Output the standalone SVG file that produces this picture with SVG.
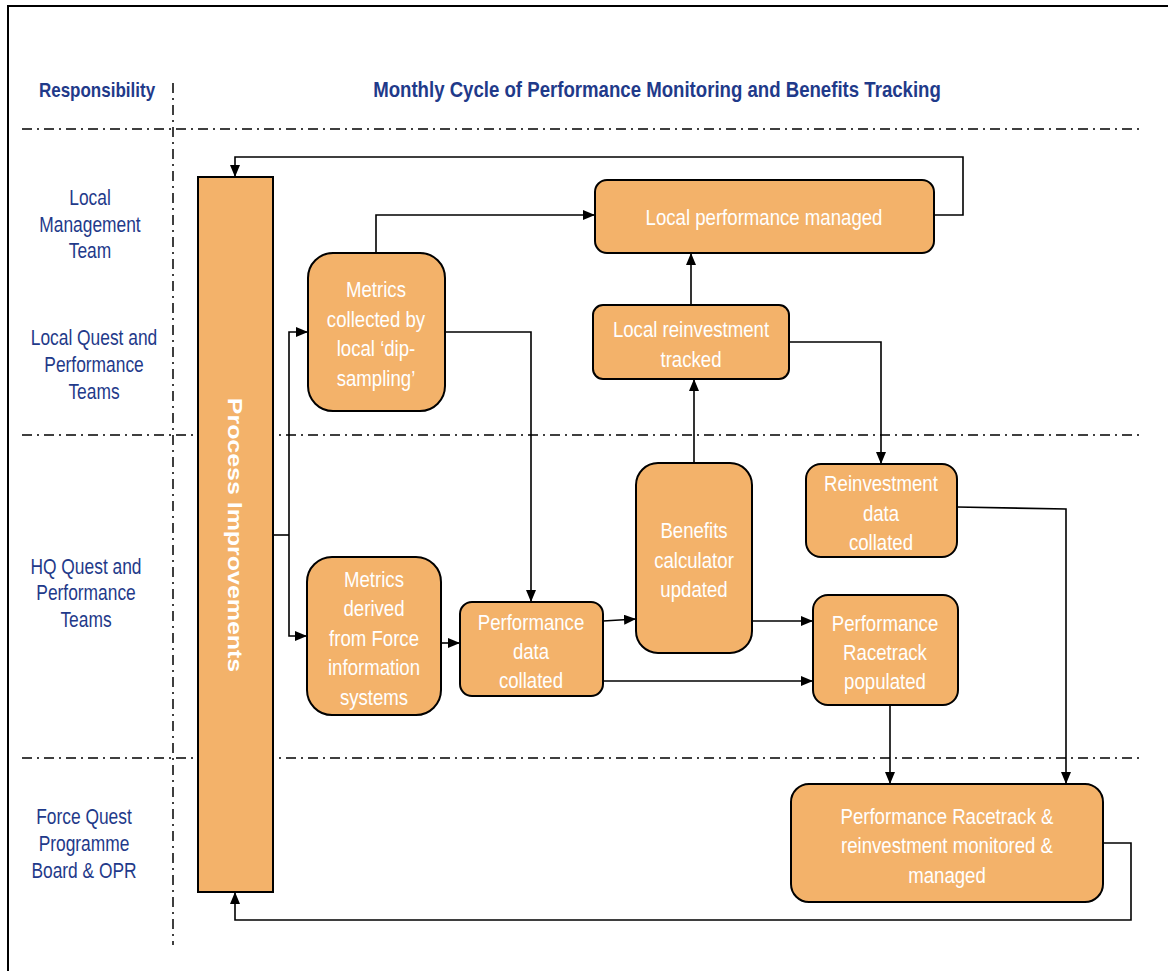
<svg xmlns="http://www.w3.org/2000/svg" width="1168" height="971" viewBox="0 0 1168 971">
<defs>
<marker id="arr" viewBox="0 0 12 10" refX="12" refY="5" markerWidth="12" markerHeight="10" markerUnits="userSpaceOnUse" orient="auto">
<path d="M0,0 L12,5 L0,10 Z" fill="#000"/>
</marker>
<style>
.frame{fill:none;stroke:#000;stroke-width:2}
.lane{fill:none;stroke:#000;stroke-width:1.5;stroke-dasharray:10 5 2 5}
.box{fill:#F3B26A;stroke:#000;stroke-width:2}
text{font-family:"Liberation Sans",Arial,sans-serif;text-anchor:middle}
.lbl{font-size:23px;fill:#fff}
.resp{font-size:22px;fill:#1F3A8A}
.head{font-size:21px;font-weight:bold;fill:#1F3A8A}
.title{font-size:23px;font-weight:bold;fill:#1F3A8A}
.con{fill:none;stroke:#000;stroke-width:1.6;marker-end:url(#arr)}
.line{fill:none;stroke:#000;stroke-width:1.6}
</style>
</defs>
<rect width="1168" height="971" fill="#fff"/>
<!-- outer frame -->
<path class="frame" d="M8,971 V6 H1168"/>
<!-- swimlane separators -->
<g id="lanes">
<path class="lane" d="M22,129 H1142"/>
<path class="lane" d="M22,435 H1142"/>
<path class="lane" d="M22,758 H1142"/>
<path class="lane" d="M173,83 V945"/>
</g>
<!-- headings (narrow type: horizontally condensed) -->
<text class="head" transform="translate(97 97) scale(.81 1)">Responsibility</text>
<text class="title" transform="translate(657 97) scale(.81 1)">Monthly Cycle of Performance Monitoring and Benefits Tracking</text>
<g id="responsibility">
<text class="resp" transform="translate(90 205) scale(.79 1)">Local</text>
<text class="resp" transform="translate(90 232) scale(.79 1)">Management</text>
<text class="resp" transform="translate(90 258) scale(.79 1)">Team</text>
<text class="resp" transform="translate(94 345) scale(.79 1)">Local Quest and</text>
<text class="resp" transform="translate(94 372) scale(.79 1)">Performance</text>
<text class="resp" transform="translate(94 399) scale(.79 1)">Teams</text>
<text class="resp" transform="translate(86 574) scale(.79 1)">HQ Quest and</text>
<text class="resp" transform="translate(86 600) scale(.79 1)">Performance</text>
<text class="resp" transform="translate(86 627) scale(.79 1)">Teams</text>
<text class="resp" transform="translate(84 824) scale(.79 1)">Force Quest</text>
<text class="resp" transform="translate(84 851) scale(.79 1)">Programme</text>
<text class="resp" transform="translate(84 878) scale(.79 1)">Board &amp; OPR</text>
</g>
<!-- connectors -->
<g id="connectors">
<path class="con" d="M934,215 H963 V157 H235 V177"/>
<path class="con" d="M376,253 V215 H595"/>
<path class="con" d="M445,332 H531 V602"/>
<path class="line" d="M273,535 H289"/>
<path class="con" d="M289,535 V332 H308"/>
<path class="con" d="M289,535 V636 H307"/>
<path class="con" d="M441,643 H460"/>
<path class="con" d="M603,621 L636,619"/>
<path class="con" d="M603,681 H813"/>
<path class="con" d="M752,621 H813"/>
<path class="con" d="M694,463 V379"/>
<path class="con" d="M691,305 V253"/>
<path class="con" d="M789,342 H881 V464"/>
<path class="con" d="M957,507 L1066,509 V784"/>
<path class="con" d="M890,705 V784"/>
<path class="con" d="M1103,843 H1131 V920 H235 V892"/>
</g>
<!-- nodes -->
<g id="process-improvements">
<rect class="box" x="198" y="177" width="75" height="715"/>
<text transform="translate(235 535) rotate(90) scale(1.28 1)" dominant-baseline="central" font-size="19.5" font-weight="bold" fill="#fff">Process Improvements</text>
</g>
<g id="local-performance-managed">
<rect class="box" x="595" y="180" width="339" height="73" rx="12"/>
<text class="lbl" transform="translate(764 225) scale(.81 1)">Local performance managed</text>
</g>
<g id="metrics-collected">
<rect class="box" x="308" y="253" width="137" height="158" rx="25"/>
<text class="lbl" transform="translate(376 297) scale(.81 1)">Metrics</text>
<text class="lbl" transform="translate(376 327) scale(.81 1)">collected by</text>
<text class="lbl" transform="translate(376 356) scale(.81 1)">local ‘dip-</text>
<text class="lbl" transform="translate(376 386) scale(.81 1)">sampling’</text>
</g>
<g id="local-reinvestment-tracked">
<rect class="box" x="593" y="305" width="196" height="74" rx="10"/>
<text class="lbl" transform="translate(691 337) scale(.81 1)">Local reinvestment</text>
<text class="lbl" transform="translate(691 367) scale(.81 1)">tracked</text>
</g>
<g id="benefits-calculator">
<rect class="box" x="636" y="463" width="116" height="190" rx="22"/>
<text class="lbl" transform="translate(694 538) scale(.81 1)">Benefits</text>
<text class="lbl" transform="translate(694 568) scale(.81 1)">calculator</text>
<text class="lbl" transform="translate(694 597) scale(.81 1)">updated</text>
</g>
<g id="reinvestment-data-collated">
<rect class="box" x="806" y="464" width="151" height="93" rx="15"/>
<text class="lbl" transform="translate(881 491) scale(.81 1)">Reinvestment</text>
<text class="lbl" transform="translate(881 521) scale(.81 1)">data</text>
<text class="lbl" transform="translate(881 550) scale(.81 1)">collated</text>
</g>
<g id="metrics-derived">
<rect class="box" x="307" y="557" width="134" height="158" rx="25"/>
<text class="lbl" transform="translate(374 587) scale(.81 1)">Metrics</text>
<text class="lbl" transform="translate(374 616) scale(.81 1)">derived</text>
<text class="lbl" transform="translate(374 646) scale(.81 1)">from Force</text>
<text class="lbl" transform="translate(374 675) scale(.81 1)">information</text>
<text class="lbl" transform="translate(374 705) scale(.81 1)">systems</text>
</g>
<g id="performance-data-collated">
<rect class="box" x="460" y="602" width="143" height="94" rx="12"/>
<text class="lbl" transform="translate(531 630) scale(.81 1)">Performance</text>
<text class="lbl" transform="translate(531 659) scale(.81 1)">data</text>
<text class="lbl" transform="translate(531 688) scale(.81 1)">collated</text>
</g>
<g id="racetrack-populated">
<rect class="box" x="813" y="595" width="145" height="110" rx="15"/>
<text class="lbl" transform="translate(885 631) scale(.81 1)">Performance</text>
<text class="lbl" transform="translate(885 660) scale(.81 1)">Racetrack</text>
<text class="lbl" transform="translate(885 689) scale(.81 1)">populated</text>
</g>
<g id="racetrack-monitored">
<rect class="box" x="791" y="784" width="312" height="118" rx="18"/>
<text class="lbl" transform="translate(947 824) scale(.81 1)">Performance Racetrack &amp;</text>
<text class="lbl" transform="translate(947 853) scale(.81 1)">reinvestment monitored &amp;</text>
<text class="lbl" transform="translate(947 883) scale(.81 1)">managed</text>
</g>
</svg>
